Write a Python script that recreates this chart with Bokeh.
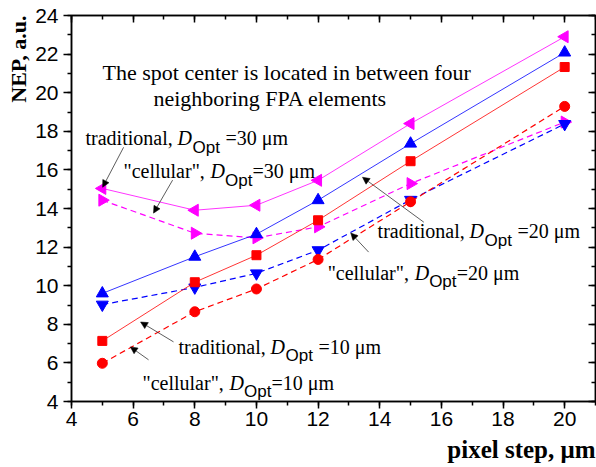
import numpy as np
from bokeh.plotting import figure
from bokeh.models import (Range1d, LinearAxis, Label, Arrow, NormalHead, Title,
                          FixedTicker, CustomJSTickFormatter)
from bokeh.embed import file_html
from bokeh.resources import INLINE

# ---------------- data ----------------
pixel_step = [5, 8, 10, 12, 15, 20]
trad_10 = [7.14, 10.18, 11.58, 13.39, 16.45, 21.33]
cell_10 = [5.98, 8.65, 9.83, 11.36, 14.35, 19.29]
trad_20 = [9.60, 11.50, 12.67, 14.43, 17.36, 22.08]
cell_20 = [9.02, 9.91, 10.64, 11.84, 14.45, 18.38]
trad_30 = [15.04, 13.91, 14.17, 15.46, 18.40, 22.90]
cell_30 = [14.43, 12.72, 12.48, 13.05, 15.29, 18.48]

x_ticks = [4, 6, 8, 10, 12, 14, 16, 18, 20]
y_ticks = [4, 6, 8, 10, 12, 14, 16, 18, 20, 22, 24]

title_lines = ["The spot center is located in between four",
               "neighboring FPA elements"]
x_label = "pixel step, \u03bcm"
y_label = "NEP, a.u."

# ---------------- figure ----------------
p = figure(width=596, height=467, x_range=Range1d(4, 21), y_range=Range1d(4, 24),
           output_backend="svg", toolbar_location=None,
           min_border_left=71, min_border_right=1, min_border_top=15,
           min_border_bottom=65)
p.xgrid.visible = False
p.ygrid.visible = False
p.outline_line_color = "black"
p.outline_line_width = 1.5
p.background_fill_color = "white"
p.border_fill_color = "white"

x_minor = list(range(4, 22))
y_minor = list(range(4, 25))


def style_axis(ax, inward):
    ax.axis_line_width = 1.5
    ax.axis_line_color = "black"
    ax.major_tick_line_width = 1.5
    ax.minor_tick_line_width = 1.5
    ax.major_tick_line_color = "black"
    ax.minor_tick_line_color = "black"
    if inward:
        ax.major_tick_in = 7
        ax.major_tick_out = 0
        ax.minor_tick_in = 4
        ax.minor_tick_out = 0
    else:
        ax.major_tick_in = 0
        ax.major_tick_out = 7
        ax.minor_tick_in = 0
        ax.minor_tick_out = 4
    ax.major_label_text_font = "Liberation Sans"
    ax.major_label_text_font_size = "21px"
    ax.major_label_text_color = "black"
    ax.major_label_standoff = 3


xa = p.xaxis[0]
xa.ticker = FixedTicker(ticks=x_ticks, minor_ticks=x_minor)
style_axis(xa, False)

ya = p.yaxis[0]
ya.ticker = FixedTicker(ticks=y_ticks, minor_ticks=y_minor)
style_axis(ya, False)
ya.major_tick_out = 8
ya.major_label_standoff = 5

blank = CustomJSTickFormatter(code="return ''")
top = LinearAxis(ticker=FixedTicker(ticks=x_ticks, minor_ticks=x_minor), formatter=blank)
style_axis(top, True)
top.major_label_text_font_size = "0px"
top.major_label_standoff = 0
p.add_layout(top, "above")

right = LinearAxis(ticker=FixedTicker(ticks=y_ticks, minor_ticks=y_minor), formatter=blank)
style_axis(right, True)
right.major_label_text_font_size = "0px"
right.major_label_standoff = 0
p.add_layout(right, "right")

SERIF = "Liberation Serif"
SANS = "Liberation Sans"

# axis titles, aligned to the far end of each axis as in the reference
p.add_layout(Title(text=x_label, text_font=SERIF, text_font_style="bold",
                   text_font_size="25px", text_color="black", align="right",
                   offset=0, standoff=10), "below")
p.add_layout(Title(text=y_label, text_font=SERIF, text_font_style="bold",
                   text_font_size="22px", text_color="black", align="right",
                   offset=0, standoff=4), "left")

# ---------------- series ----------------
MAG, BLU, RED = "#FF00FF", "#0000FF", "#FF0000"
series = [
    (trad_30, MAG, "solid", "triangle", np.pi / 2, 12),
    (cell_30, MAG, "dashed", "triangle", -np.pi / 2, 12),
    (trad_20, BLU, "solid", "triangle", 0.0, 12),
    (cell_20, BLU, "dashed", "inverted_triangle", 0.0, 12),
    (trad_10, RED, "solid", "square", 0.0, 9),
    (cell_10, RED, "dashed", "circle", 0.0, 10),
]
for ys, col, kind, mk, ang, sz in series:
    if kind == "solid":
        p.line(pixel_step, ys, line_color=col, line_width=0.8)
    else:
        p.line(pixel_step, ys, line_color=col, line_width=1.2, line_dash="6 4")
    p.scatter(pixel_step, ys, marker=mk, angle=ang, size=sz,
              fill_color=col, line_color=col)

# ---------------- annotations ----------------
p.add_layout(Label(x=5.006, y=21.05, text=title_lines[0], text_font=SERIF,
                   text_font_size="22px", text_color="black",
                   text_baseline="alphabetic"))
p.add_layout(Label(x=6.66, y=19.71, text=title_lines[1], text_font=SERIF,
                   text_font_size="22px", text_color="black",
                   text_baseline="alphabetic"))


def d_label(x, y, prefix, val, spaced):
    if spaced:
        d_off, o_off, s_off = 92, 107, 140
    else:
        d_off, o_off, s_off = 87, 101.5, 129
    suffix = "=%d \u03bcm" % val
    common = dict(x=x, y=y, text_color="black", text_baseline="alphabetic")
    p.add_layout(Label(text=prefix, text_font=SERIF, text_font_size="20px", **common))
    p.add_layout(Label(text="D", text_font=SERIF, text_font_style="italic",
                       text_font_size="20px", x_offset=d_off, **common))
    p.add_layout(Label(text="Opt", text_font=SANS, text_font_size="17px",
                       x_offset=o_off, y_offset=-9, **common))
    p.add_layout(Label(text=suffix, text_font=SERIF, text_font_size="20px",
                       x_offset=s_off, **common))


d_label(4.454, 17.64, "traditional,", 30, True)
d_label(5.688, 15.93, "\"cellular\",", 30, False)
d_label(13.93, 12.83, "traditional,", 20, True)
d_label(12.31, 10.66, "\"cellular\",", 20, False)
d_label(7.473, 6.83, "traditional,", 10, True)
d_label(6.304, 4.97, "\"cellular\",", 10, False)

arrows = [
    (5.69, 17.17, 5.01, 15.10),
    (7.28, 15.47, 6.66, 13.76),
    (15.43, 13.29, 13.44, 15.62),
    (13.64, 11.74, 13.06, 12.73),
    (7.31, 7.09, 6.24, 8.12),
    (6.50, 6.16, 5.91, 6.83),
]
for xs, ys_, xe, ye in arrows:
    p.add_layout(Arrow(end=NormalHead(size=7, fill_color="black", line_color="black",
                                      line_width=0.5),
                       x_start=xs, y_start=ys_, x_end=xe, y_end=ye,
                       line_color="#333333", line_width=0.8))

open("out.html", "w").write(file_html(p, INLINE))
